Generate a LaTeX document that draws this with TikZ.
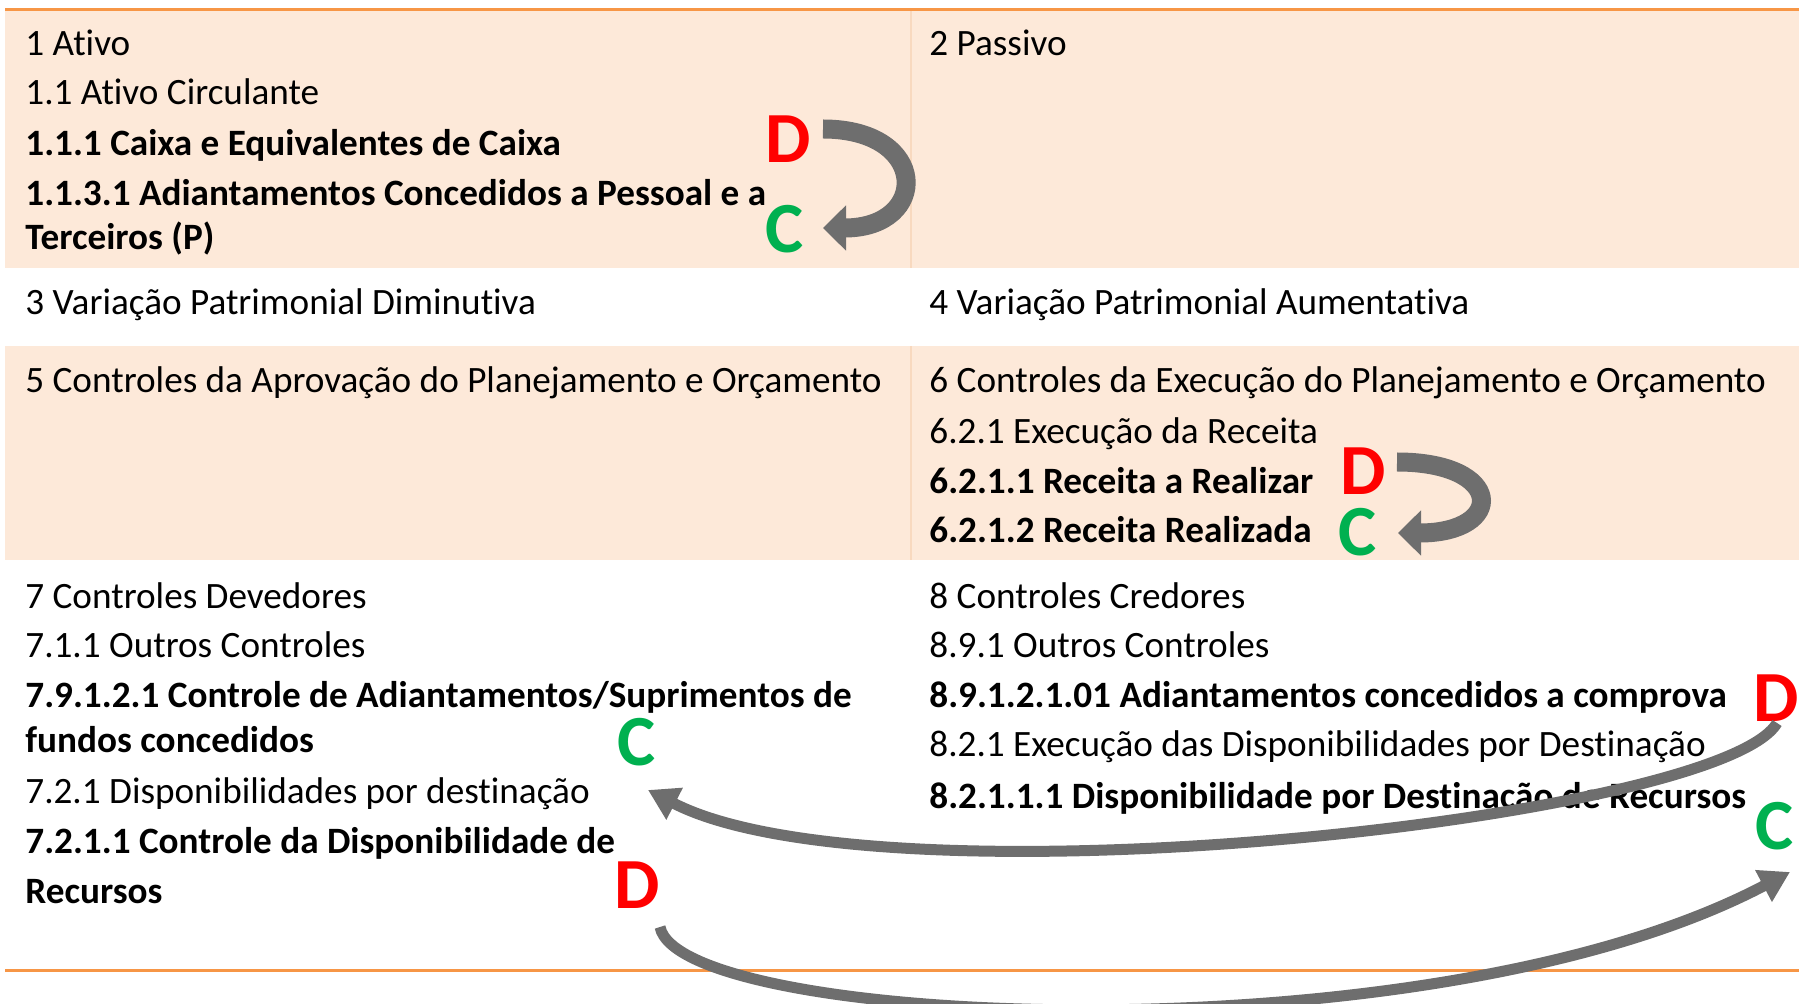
\documentclass[tikz,border=0pt]{standalone}
\usepackage{fontspec}
\setmainfont{Carlito}[Ligatures=NoCommon]
\usetikzlibrary{arrows.meta,calc}
\definecolor{orangeL}{HTML}{F79646}
\definecolor{peach}{HTML}{FDE9D9}
\definecolor{divl}{HTML}{F8D9BF}
\definecolor{redD}{HTML}{FF0000}
\definecolor{greenC}{HTML}{00B050}
\definecolor{arr}{HTML}{6E6E6E}
\begin{document}
\begin{tikzpicture}[x=0.5pt,y=-0.5pt,
  txt/.style={anchor=base west,inner sep=0pt,font=\fontsize{18.6}{22}\selectfont},
  btxt/.style={anchor=base west,inner sep=0pt,font=\fontsize{18.6}{22}\selectfont\bfseries},
  dletter/.style={inner sep=0pt,font=\fontsize{36}{40}\selectfont\bfseries,text=redD},
  cletter/.style={inner sep=0pt,font=\fontsize{36}{40}\selectfont\bfseries,text=greenC},
  flowbig/.style={draw=arr,line width=9.5pt,-{Triangle[length=11.5pt,width=22pt]}},
  flowlong/.style={draw=arr,line width=5.5pt,-{Triangle[length=15pt,width=17pt]}},
  rule/.style={draw=orangeL,line width=1.5pt},
  divider/.style={draw=divl,line width=0.75pt}]
\useasboundingbox (0,0) rectangle (1799,1004);
% background bands
\fill[peach] (5,11) rectangle (1799,268);
\fill[peach] (5,346) rectangle (1799,560);
\draw[divider] (911,11) -- (911,268);
\draw[divider] (911,346) -- (911,560);
\draw[rule] (5,9.5) -- (1799,9.5);
\draw[rule] (5,970) -- (1799,970);
% row 1
\node[txt] (l1) at (25,56) {1 Ativo};
\node[txt] (l2) at (25,105) {1.1 Ativo Circulante};
\node[btxt] (l3) at (25,156) {1.1.1 Caixa e Equivalentes de Caixa};
\node[btxt] (l4) at (25,206) {1.1.3.1 Adiantamentos Concedidos a Pessoal e a};
\node[btxt] (l5) at (25,250) {Terceiros (P)};
\node[txt] (r1) at (929,56) {2 Passivo};
% row 2
\node[txt] (l6) at (25,315) {3 Variação Patrimonial Diminutiva};
\node[txt] (r2) at (929,315) {4 Variação Patrimonial Aumentativa};
% row 3
\node[txt] (l7) at (25,393) {5 Controles da Aprovação do Planejamento e Orçamento};
\node[txt] (r3) at (929,393) {6 Controles da Execução do Planejamento e Orçamento};
\node[txt] (r4) at (929,444) {6.2.1 Execução da Receita};
\node[btxt] (r5) at (929,494) {6.2.1.1 Receita a Realizar};
\node[btxt] (r6) at (929,543) {6.2.1.2 Receita Realizada};
% row 4 left
\node[txt] (l8) at (25,609) {7 Controles Devedores};
\node[txt] (l9) at (25,658) {7.1.1 Outros Controles};
\node[btxt] (l10) at (25,708) {7.9.1.2.1 Controle de Adiantamentos/Suprimentos de};
\node[btxt] (l11) at (25,753) {fundos concedidos};
\node[txt] (l12) at (25,804) {7.2.1 Disponibilidades por destinação};
\node[btxt] (l13) at (25,853) {7.2.1.1 Controle da Disponibilidade de};
\node[btxt] (l14) at (25,903) {Recursos};
% row 4 right
\node[txt] (r7) at (929,609) {8 Controles Credores};
\node[txt] (r8) at (929,658) {8.9.1 Outros Controles};
\node[btxt] (r9) at (929,708) {8.9.1.2.1.01 Adiantamentos concedidos a comprova};
\node[txt] (r10) at (929,757) {8.2.1 Execução das Disponibilidades por Destinação};
\node[btxt] (r11) at (929,808) {8.2.1.1.1 Disponibilidade por Destinação de Recursos};
% D / C letters
\node[dletter] (D1) at (788,139) {D};
\node[cletter] (C1) at (785,229) {C};
\node[dletter] (D2) at (1363,471) {D};
\node[cletter] (C2) at (1358,532) {C};
\node[dletter] (D3) at (1776,698) {D};
\node[cletter] (C3) at (1775,826) {C};
\node[cletter] (C4) at (637,742) {C};
\node[dletter] (D4) at (637,885) {D};
% arrows
\draw[flowbig] ($(D1)+(35,-10)$) .. controls +(107,0) and +(107,0) .. ($(C1)+(38,-1)$);
\draw[flowbig] ($(D2)+(34,-9)$) .. controls +(108,0) and +(108,0) .. ($(C2)+(40,1)$);
\draw[flowlong] ($(D3)+(1,25)$) .. controls +(-57,97) and +(232,120) .. ($(C4)+(11,48)$);
\draw[flowlong] ($(D4)+(23,42)$) .. controls +(20,100) and +(-360,190) .. ($(C3)+(15,46)$);
\end{tikzpicture}
\end{document}
